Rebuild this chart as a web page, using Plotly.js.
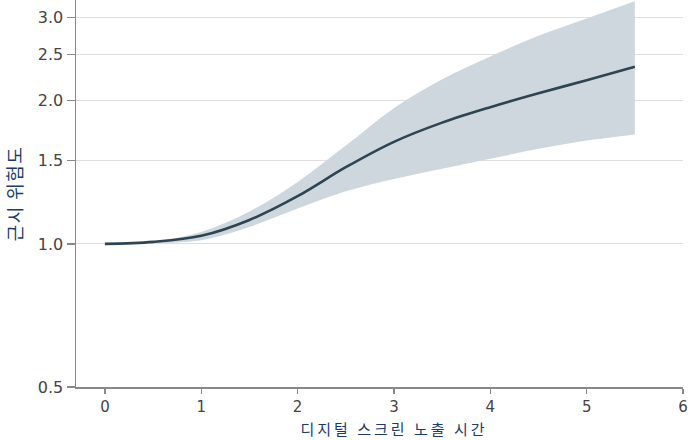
<!DOCTYPE html>
<html>
<head>
<meta charset="utf-8">
<script src="https://cdn.plot.ly/plotly-3.0.1.min.js"></script>
<style>
html,body{margin:0;padding:0;background:#fff;}
#chart{width:700px;height:440px;}
#chart .annotation-text{letter-spacing:3px;}
#chart .ytitle{letter-spacing:1.5px;}
</style>
</head>
<body>
<div id="chart"></div>
<script>
const hours = [0, 0.5, 1, 1.5, 2, 2.5, 3, 3.5, 4, 4.5, 5, 5.5];
const risk  = [1.0, 1.01, 1.04, 1.123, 1.26, 1.45, 1.64, 1.80, 1.94, 2.075, 2.21, 2.36];
const upper = [1.0, 1.013, 1.06, 1.17, 1.35, 1.61, 1.93, 2.22, 2.48, 2.74, 2.98, 3.24];
const lower = [1.0, 1.003, 1.018, 1.086, 1.187, 1.29, 1.37, 1.44, 1.51, 1.585, 1.65, 1.70];
const yTickVals = [0.5, 1.0, 1.5, 2.0, 2.5, 3.0];
const yTickText = ["0.5", "1.0", "1.5", "2.0", "2.5", "3.0"];
const xTickVals = [0, 1, 2, 3, 4, 5, 6];
const xTitle = "디지털 스크린 노출 시간";
const yTitle = "근시 위험도";

const traces = [
  {x: hours, y: upper, mode: 'lines', line: {width: 0, shape: 'spline', smoothing: 1, color: 'rgba(0,0,0,0)'}, hoverinfo: 'skip', showlegend: false},
  {x: hours, y: lower, mode: 'lines', fill: 'tonexty', fillcolor: '#cfd7de', line: {width: 0, shape: 'spline', smoothing: 1, color: 'rgba(0,0,0,0)'}, hoverinfo: 'skip', showlegend: false},
  {x: hours, y: risk, mode: 'lines', line: {width: 2.6, shape: 'spline', smoothing: 1, color: '#2d4452'}, showlegend: false}
];

const titleFont = {family: 'Noto Sans CJK KR', size: 18, color: '#1b3b6b'};

const layout = {
  width: 700, height: 440,
  margin: {l: 76, r: 17, t: 0, b: 53},
  paper_bgcolor: '#ffffff', plot_bgcolor: '#ffffff',
  font: {family: 'DejaVu Sans, sans-serif', size: 16, color: '#444'},
  showlegend: false,
  xaxis: {
    range: [-0.3, 6], tickvals: xTickVals, ticks: 'outside', ticklen: 5, tickcolor: '#888', tickwidth: 1.2,
    showline: true, linecolor: '#888', linewidth: 1.5, showgrid: false, zeroline: false,
    tickfont: {family: 'DejaVu Sans, sans-serif', size: 15, color: '#444'}, automargin: false
  },
  yaxis: {
    type: 'log', range: [Math.log10(0.5), Math.log10(3.26)],
    tickvals: yTickVals, ticktext: yTickText, ticks: 'outside', ticklen: 8, tickcolor: '#888', tickwidth: 1.2,
    showline: true, linecolor: '#888', linewidth: 1.5, showgrid: true, gridcolor: '#dedede', gridwidth: 1, zeroline: false,
    tickfont: {family: 'DejaVu Sans, sans-serif', size: 16, color: '#444'}, automargin: false,
    title: {text: yTitle, standoff: 10, font: titleFont}
  },
  annotations: [{
    text: xTitle, xref: 'paper', yref: 'paper', x: 0.524, y: 0, xanchor: 'center', yanchor: 'middle',
    yshift: -41, showarrow: false, font: {family: 'Noto Sans CJK KR', size: 15, color: '#1b3b6b'}
  }]
};

Plotly.newPlot('chart', traces, layout, {displayModeBar: false, staticPlot: true});
</script>
</body>
</html>
